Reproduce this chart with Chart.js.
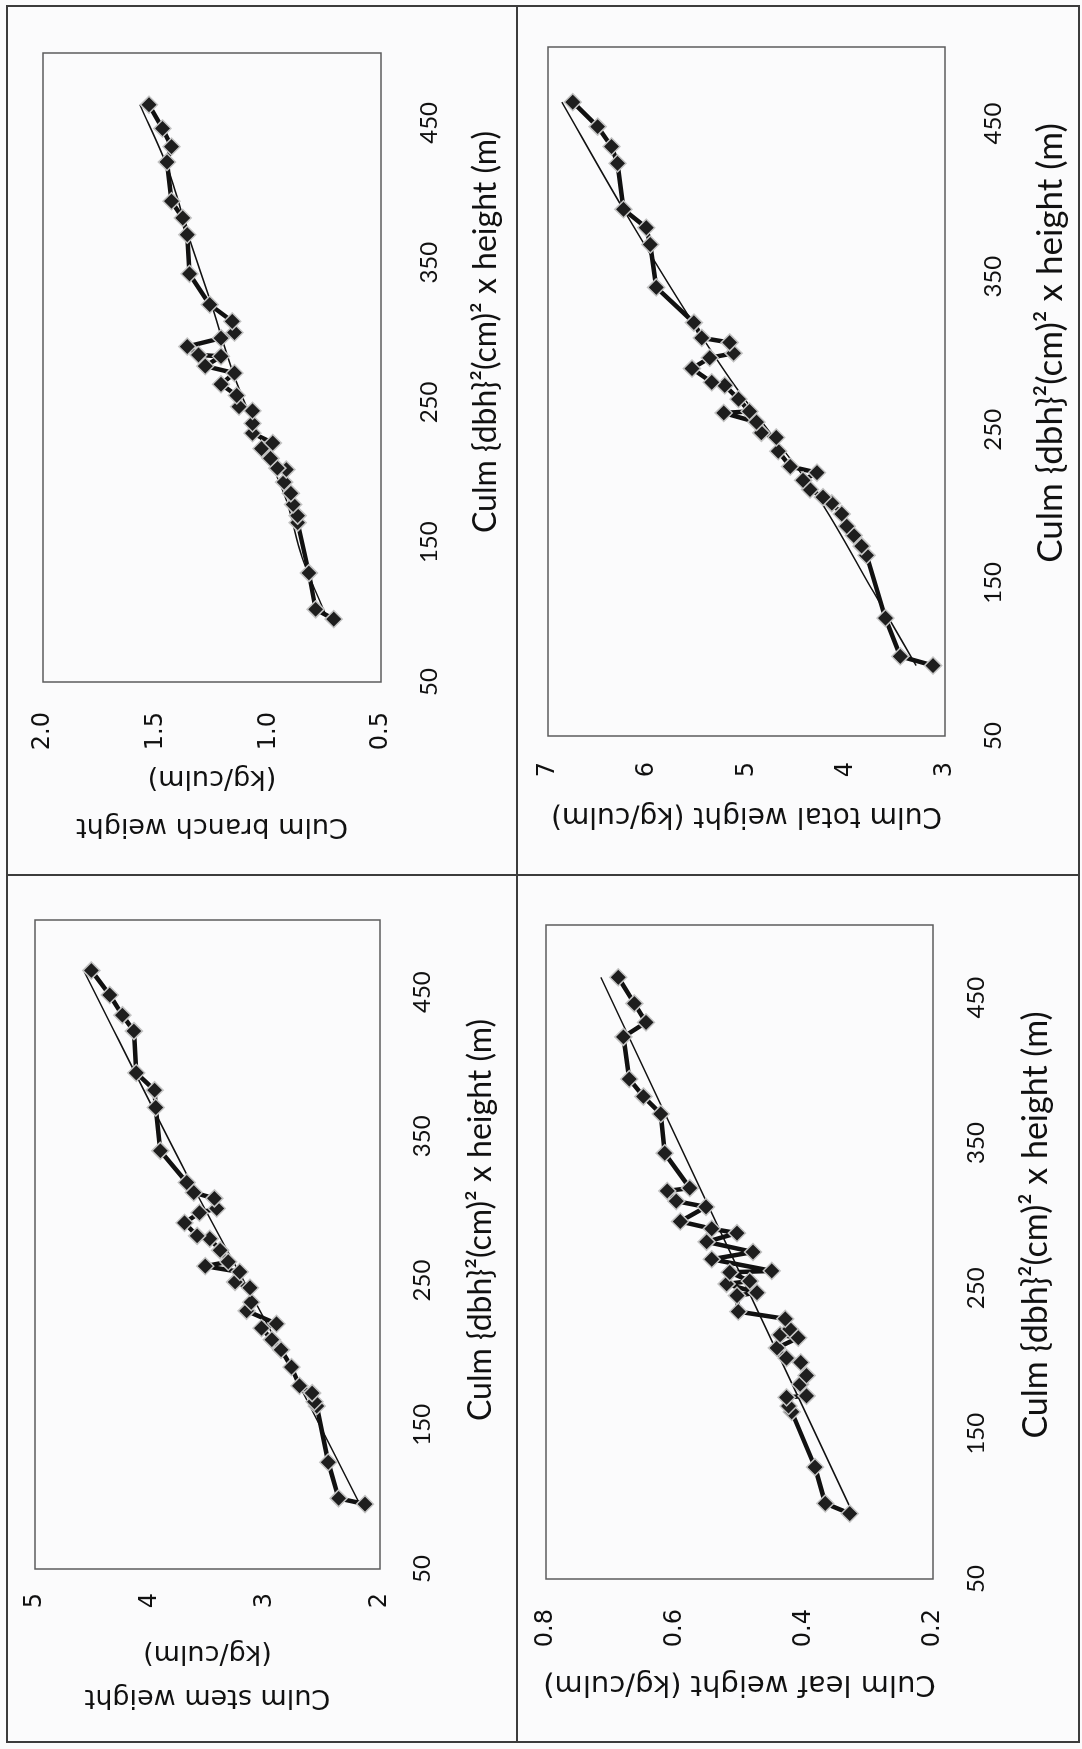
<!DOCTYPE html>
<html>
<head>
<meta charset="utf-8">
<script src="https://cdn.jsdelivr.net/npm/chart.js@4.4.1/dist/chart.umd.min.js"></script>
<style>
  html, body { margin: 0; padding: 0; background: #fbfbfc; overflow: hidden; }
  /* the scanned page is turned a quarter left, so build it upright and rotate it */
  #page { position: absolute; left: 0; top: 0; width: 1749px; height: 1082px;
          transform-origin: 0 0; transform: translate(0, 1749px) rotate(-90deg);
          background: #fbfbfc; }
  #page canvas { position: absolute; }
  .rule { position: absolute; background: #3c3c3c; }
  .xt { position: absolute; font-family: Lato, sans-serif; color: #111;
        white-space: nowrap; transform: translate(-50%, -50%); }
</style>
</head>
<body>
<div id="page">
  <div class="rule" style="left:6px;top:6px;width:1738px;height:2px"></div>
  <div class="rule" style="left:6px;top:1078px;width:1738px;height:2px"></div>
  <div class="rule" style="left:6px;top:6px;width:2px;height:1074px"></div>
  <div class="rule" style="left:1742px;top:6px;width:2px;height:1074px"></div>
  <div class="rule" style="left:873px;top:6px;width:2px;height:1074px"></div>
  <div class="rule" style="left:6px;top:516px;width:1738px;height:2px"></div>

  <canvas id="stem" width="819" height="490" style="left:20px;top:20px"></canvas>
  <canvas id="branch" width="826" height="491" style="left:880px;top:20px"></canvas>
  <canvas id="leaf" width="814" height="540" style="left:20px;top:530px"></canvas>
  <canvas id="total" width="832" height="540" style="left:880px;top:530px"></canvas>

  <div class="xt" style="left:529px;top:478px;font-size:32px">Culm {dbh}²(cm)² x height (m)</div>
  <div class="xt" style="left:1417px;top:483px;font-size:32px">Culm {dbh}²(cm)² x height (m)</div>
  <div class="xt" style="left:524px;top:1033px;font-size:34px">Culm {dbh}²(cm)² x height (m)</div>
  <div class="xt" style="left:1406px;top:1048px;font-size:35px">Culm {dbh}²(cm)² x height (m)</div>
</div>

<script>
// x axis ticks shared by all four panels
const xTicks = [50, 150, 250, 350, 450];

// culm stem weight
const stemX = [95, 99, 124, 163, 166, 172, 177, 190, 202, 209, 217, 220, 229, 235, 245, 249, 256, 260,
               263, 271, 279, 281, 290, 297, 300, 307, 311, 318, 340, 370, 382, 394, 423, 434, 448, 465];
const stemY = [2.13, 2.36, 2.45, 2.55, 2.57, 2.59, 2.70, 2.77, 2.86, 2.94, 3.03, 2.90, 3.16, 3.12, 3.13, 3.26, 3.22, 3.52,
               3.32, 3.39, 3.48, 3.59, 3.70, 3.57, 3.42, 3.44, 3.62, 3.68, 3.91, 3.95, 3.96, 4.12, 4.14, 4.24, 4.35, 4.51];
const stemTrendX = [94, 194, 322, 464];
const stemTrendY = [2.17, 2.81, 3.67, 4.57];
const stemTicks = [2, 3, 4, 5];

// culm branch weight
const branchX = [95, 102, 128, 164, 169, 177, 185, 193, 202, 203, 210, 217, 221, 228, 235, 244, 247, 255,
                 263, 271, 276, 283, 284, 290, 296, 300, 308, 320, 342, 370, 382, 394, 422, 433, 446, 463];
const branchY = [0.71, 0.79, 0.82, 0.87, 0.87, 0.89, 0.90, 0.93, 0.92, 0.96, 0.99, 1.03, 0.98, 1.07, 1.07, 1.07, 1.13, 1.14,
                 1.21, 1.15, 1.28, 1.21, 1.31, 1.36, 1.21, 1.15, 1.16, 1.26, 1.35, 1.36, 1.38, 1.43, 1.45, 1.43, 1.47, 1.53];
const branchTrendX = [96, 139, 180, 215, 264, 324, 367, 419, 463];
const branchTrendY = [0.74, 0.85, 0.92, 1.01, 1.14, 1.26, 1.35, 1.45, 1.57];
const branchTicks = [0.5, 1.0, 1.5, 2.0];

// culm leaf weight
const leafX = [95, 102, 127, 165, 169, 175, 176, 184, 190, 199, 202, 209, 216, 218, 222, 229, 234, 245, 247, 253, 255,
               261, 262, 270, 275, 282, 288, 291, 296, 306, 310, 317, 319, 343, 370, 382, 394, 423, 433, 446, 464];
const leafY = [0.329, 0.367, 0.383, 0.419, 0.424, 0.427, 0.396, 0.406, 0.396, 0.405, 0.427, 0.442, 0.409, 0.437, 0.422,
               0.429, 0.502, 0.504, 0.473, 0.520, 0.484, 0.515, 0.450, 0.543, 0.479, 0.551, 0.504, 0.543, 0.592, 0.552,
               0.598, 0.612, 0.577, 0.616, 0.622, 0.649, 0.671, 0.680, 0.645, 0.663, 0.688];
const leafTrendX = [95, 464];
const leafTrendY = [0.324, 0.715];
const leafTicks = [0.2, 0.4, 0.6, 0.8];

// culm total weight
const totalX = [96, 102, 127, 168, 174, 181, 187, 195, 202, 206, 211, 217, 222, 226, 236, 245, 248, 255, 261,
                262, 270, 279, 281, 290, 297, 300, 307, 310, 320, 343, 371, 382, 394, 424, 435, 448, 464];
const totalY = [3.12, 3.45, 3.60, 3.79, 3.84, 3.92, 3.99, 4.04, 4.14, 4.23, 4.36, 4.43, 4.29, 4.56, 4.68, 4.70, 4.85, 4.90, 5.23,
                4.97, 5.08, 5.22, 5.35, 5.55, 5.37, 5.13, 5.17, 5.45, 5.53, 5.91, 5.97, 6.01, 6.24, 6.30, 6.36, 6.50, 6.75];
const totalTrendX = [96, 144, 207, 279, 320, 394, 464];
const totalTrendY = [3.29, 3.72, 4.29, 5.12, 5.54, 6.24, 6.86];
const totalTicks = [3, 4, 5, 6, 7];

function pts(xs, ys) {
  return xs.map((x, i) => ({ x: x, y: ys[i] }));
}

// thin grey frame round the plot area
const boxPlugin = {
  id: 'box',
  afterDraw(chart) {
    const a = chart.chartArea, ctx = chart.ctx;
    ctx.save();
    ctx.strokeStyle = '#5c5c5c';
    ctx.lineWidth = 1.5;
    ctx.strokeRect(a.left, a.top, a.right - a.left, a.bottom - a.top);
    ctx.restore();
  }
};

function makePanel(id, o) {
  new Chart(document.getElementById(id), {
    type: 'scatter',
    data: {
      datasets: [
        {
          data: pts(o.x, o.y), showLine: true, order: 1,
          borderColor: '#111', borderWidth: 4.5, borderJoinStyle: 'round',
          pointStyle: 'rectRot', pointRadius: 8.5,
          pointBackgroundColor: '#1e1e1e', pointBorderColor: '#c4c4c4', pointBorderWidth: 1.5
        },
        {
          data: pts(o.tx, o.ty), showLine: true, order: 2,
          borderColor: '#111', borderWidth: 1.5, pointRadius: 0,
          cubicInterpolationMode: 'monotone'
        }
      ]
    },
    options: {
      responsive: false,
      animation: false,
      devicePixelRatio: 1,
      layout: { padding: { top: o.pt, right: 10, left: 0, bottom: 0 } },
      plugins: { legend: { display: false }, tooltip: { enabled: false } },
      scales: {
        x: {
          type: 'linear', min: 50, max: 500,
          grid: { display: false, drawTicks: false }, border: { display: false },
          afterBuildTicks: s => { s.ticks = xTicks.map(v => ({ value: v })); },
          afterFit: s => { s.height = o.xh; s.paddingLeft = 0; s.paddingRight = 0; },
          ticks: { padding: o.xpad, color: '#111', maxRotation: 0, autoSkip: false,
                   font: { family: 'Lato', size: 24 } }
        },
        y: {
          type: 'linear', min: o.ticks[0], max: o.ticks[o.ticks.length - 1],
          grid: { display: false, drawTicks: false }, border: { display: false },
          afterBuildTicks: s => { s.ticks = o.ticks.map(v => ({ value: v })); },
          afterFit: s => { s.width = o.yw; s.paddingTop = 0; s.paddingBottom = 0; },
          ticks: { padding: o.ypad, color: '#111',
                   font: { family: 'DejaVu Sans', size: 24 },
                   callback: v => o.dec ? v.toFixed(1) : String(v) },
          title: { display: true, text: o.title, color: '#111',
                   font: { family: 'DejaVu Sans', size: o.tsize, lineHeight: o.tlh },
                   padding: { top: o.tpad, bottom: 0 } }
        }
      }
    },
    plugins: [boxPlugin]
  });
}

makePanel('stem', {
  x: stemX, y: stemY, tx: stemTrendX, ty: stemTrendY, ticks: stemTicks, dec: false,
  title: ['Culm stem weight', '(kg/culm)'], tsize: 27, tlh: '44px', tpad: 10,
  pt: 15, yw: 160, xh: 130, ypad: 24, xpad: 28
});
makePanel('branch', {
  x: branchX, y: branchY, tx: branchTrendX, ty: branchTrendY, ticks: branchTicks, dec: true,
  title: ['Culm branch weight', '(kg/culm)'], tsize: 27, tlh: '48px', tpad: 19,
  pt: 23, yw: 187, xh: 130, ypad: 30, xpad: 34
});
makePanel('leaf', {
  x: leafX, y: leafY, tx: leafTrendX, ty: leafTrendY, ticks: leafTicks, dec: true,
  title: 'Culm leaf weight (kg/culm)', tsize: 29, tlh: '32px', tpad: 29,
  pt: 16, yw: 150, xh: 137, ypad: 30, xpad: 29
});
makePanel('total', {
  x: totalX, y: totalY, tx: totalTrendX, ty: totalTrendY, ticks: totalTicks, dec: false,
  title: 'Culm total weight (kg/culm)', tsize: 28, tlh: '32px', tpad: 38,
  pt: 18, yw: 133, xh: 125, ypad: 26, xpad: 34
});
</script>
</body>
</html>
